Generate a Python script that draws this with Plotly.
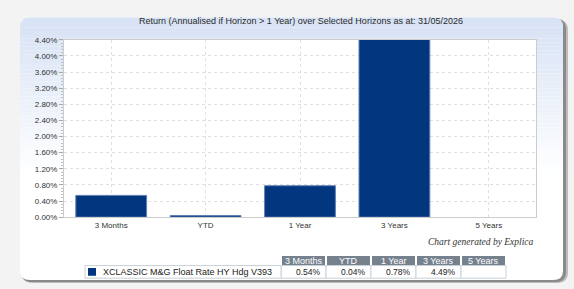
import plotly.graph_objects as go

# ---- data ----
horizons = ["3 Months", "YTD", "1 Year", "3 Years", "5 Years"]
returns = [0.54, 0.04, 0.78, 4.49, None]
series_name = "XCLASSIC M&G Float Rate HY Hdg V393"
y_tick_vals = [0.0, 0.4, 0.8, 1.2, 1.6, 2.0, 2.4, 2.8, 3.2, 3.6, 4.0, 4.4]
title_text = "Return (Annualised if Horizon > 1 Year) over Selected Horizons as at: 31/05/2026"
credit_text = "Chart generated by Explica"

W, H = 574, 289
BAR = "#02367f"
FONT = "Liberation Sans, Arial, sans-serif"


def fx(px):
    return px / W


def fy(py):
    return 1 - py / H


def rrect(x0, y0, x1, y1, r, top_only=False):
    if top_only:
        return (f"M {fx(x0)},{fy(y1)} L {fx(x0)},{fy(y0 + r)} Q {fx(x0)},{fy(y0)} {fx(x0 + r)},{fy(y0)} "
                f"L {fx(x1 - r)},{fy(y0)} Q {fx(x1)},{fy(y0)} {fx(x1)},{fy(y0 + r)} L {fx(x1)},{fy(y1)} Z")
    return (f"M {fx(x0 + r)},{fy(y0)} L {fx(x1 - r)},{fy(y0)} Q {fx(x1)},{fy(y0)} {fx(x1)},{fy(y0 + r)} "
            f"L {fx(x1)},{fy(y1 - r)} Q {fx(x1)},{fy(y1)} {fx(x1 - r)},{fy(y1)} "
            f"L {fx(x0 + r)},{fy(y1)} Q {fx(x0)},{fy(y1)} {fx(x0)},{fy(y1 - r)} "
            f"L {fx(x0)},{fy(y0 + r)} Q {fx(x0)},{fy(y0)} {fx(x0 + r)},{fy(y0)} Z")


shapes = []
# shadow
shapes.append(dict(type="path", xref="paper", yref="paper", path=rrect(22, 16, 568, 288, 11),
                   fillcolor="#bcbcbc", line=dict(width=0), layer="below"))
shapes.append(dict(type="path", xref="paper", yref="paper", path=rrect(21, 15, 566, 287, 11),
                   fillcolor="#8a8a8a", line=dict(width=0), layer="below"))
# panel
PX0, PY0, PX1, PY1 = 20, 14, 563, 285
shapes.append(dict(type="path", xref="paper", yref="paper", path=rrect(PX0, PY0, PX1, PY1, 10),
                   fillcolor="#ffffff", line=dict(width=0), layer="below"))
# gradient
top_c = (216, 227, 245)
g0, g1 = 24, 175
n = 38
shapes.append(dict(type="path", xref="paper", yref="paper", path=rrect(PX0, PY0, PX1, g0, 10, top_only=True),
                   fillcolor="rgb(%d,%d,%d)" % top_c, line=dict(width=0), layer="below"))
for k in range(n):
    ya = g0 + (g1 - g0) * k / n
    yb = g0 + (g1 - g0) * (k + 1) / n
    t = (k + 0.5) / n
    c = tuple(int(round(top_c[i] + (255 - top_c[i]) * t)) for i in range(3))
    shapes.append(dict(type="rect", xref="paper", yref="paper", x0=fx(PX0), x1=fx(PX1),
                       y0=fy(yb), y1=fy(ya), fillcolor="rgb(%d,%d,%d)" % c,
                       line=dict(width=0), layer="below"))
# plot area background
shapes.append(dict(type="rect", xref="paper", yref="paper", x0=fx(64), x1=fx(536), y0=fy(220), y1=fy(37),
                   fillcolor="#ffffff", line=dict(width=0), layer="below"))

annotations = []
annotations.append(dict(text=title_text, x=fx(301), y=fy(18), xref="paper", yref="paper",
                        showarrow=False, xanchor="center", yanchor="middle",
                        font=dict(family=FONT, size=9, color="#2a2a2a")))
annotations.append(dict(text="<i>" + credit_text + "</i>", x=fx(536), y=fy(246), xref="paper", yref="paper",
                        showarrow=False, xanchor="right", yanchor="middle",
                        font=dict(family="Liberation Serif, Times New Roman, serif", size=9.5, color="#333333")))

# table
HX0, CW, GAP = 282, 43, 2
HY0, HY1, DY1 = 260, 270, 283
for i, h in enumerate(horizons):
    x0 = HX0 + i * (CW + GAP)
    x1 = x0 + CW
    shapes.append(dict(type="rect", xref="paper", yref="paper", x0=fx(x0), x1=fx(x1), y0=fy(HY1), y1=fy(HY0),
                       fillcolor="#75818d", line=dict(width=0)))
    shapes.append(dict(type="rect", xref="paper", yref="paper", x0=fx(x0 - 1), x1=fx(x1 + 1), y0=fy(DY1), y1=fy(HY1),
                       fillcolor="#ffffff", line=dict(width=1, color="#c9d0d7")))
    annotations.append(dict(text=h, x=fx((x0 + x1) / 2), y=fy((HY0 + HY1) / 2), xref="paper", yref="paper",
                            showarrow=False, xanchor="center", yanchor="middle",
                            font=dict(family=FONT, size=9, color="#ffffff")))
    v = returns[i]
    if v is not None:
        annotations.append(dict(text=f"{v:.2f}%", x=fx(x1 - 2), y=fy((HY1 + DY1) / 2), xref="paper", yref="paper",
                                showarrow=False, xanchor="right", yanchor="middle",
                                font=dict(family=FONT, size=8.5, color="#222222")))
shapes.append(dict(type="rect", xref="paper", yref="paper", x0=fx(85), x1=fx(281), y0=fy(DY1), y1=fy(HY1),
                   fillcolor="#ffffff", line=dict(width=1, color="#c9d0d7")))
shapes.append(dict(type="rect", xref="paper", yref="paper", x0=fx(88), x1=fx(96), y0=fy(280.5), y1=fy(272.5),
                   fillcolor=BAR, line=dict(width=0)))
annotations.append(dict(text=series_name, x=fx(101), y=fy((HY1 + DY1) / 2), xref="paper", yref="paper",
                        showarrow=False, xanchor="left", yanchor="middle",
                        font=dict(family=FONT, size=9, color="#222222")))

fig = go.Figure(go.Bar(
    x=horizons, y=returns, marker=dict(color=BAR, line=dict(color="#5e80b3", width=1)),
    hoverinfo="skip", cliponaxis=True,
))

fig.update_layout(
    width=W, height=H,
    margin=dict(l=0, r=0, t=0, b=0),
    paper_bgcolor="#f3f3f3",
    plot_bgcolor="rgba(0,0,0,0)",
    showlegend=False,
    bargap=0.25,
    shapes=shapes,
    annotations=annotations,
    font=dict(family=FONT, size=8, color="#333333"),
    xaxis=dict(
        domain=[fx(64), fx(536)], type="category", categoryorder="array", categoryarray=horizons,
        showgrid=True, gridcolor="#e0e0e0", griddash="dot", gridwidth=1,
        showline=True, linecolor="#cccccc", mirror=True, ticks="",
        tickfont=dict(family=FONT, size=8, color="#333333"), fixedrange=True,
    ),
    yaxis=dict(
        domain=[fy(220), fy(37)], range=[0, 4.4], tickvals=y_tick_vals,
        ticktext=[f"{v:.2f}%" for v in y_tick_vals],
        showgrid=True, gridcolor="#e0e0e0", griddash="dot", gridwidth=1,
        showline=True, linecolor="#cccccc", mirror=True, zeroline=False,
        ticks="outside", ticklen=4, tickcolor="#a8a8a8",
        minor=dict(ticks="outside", ticklen=2, dtick=0.08, tickcolor="#c0c0c0", showgrid=False),
        tickfont=dict(family=FONT, size=8, color="#333333"), fixedrange=True,
    ),
)

fig.write_html("out.html", config={"displayModeBar": False},
               post_script="document.body.style.margin='0';document.body.style.overflow='hidden';")
